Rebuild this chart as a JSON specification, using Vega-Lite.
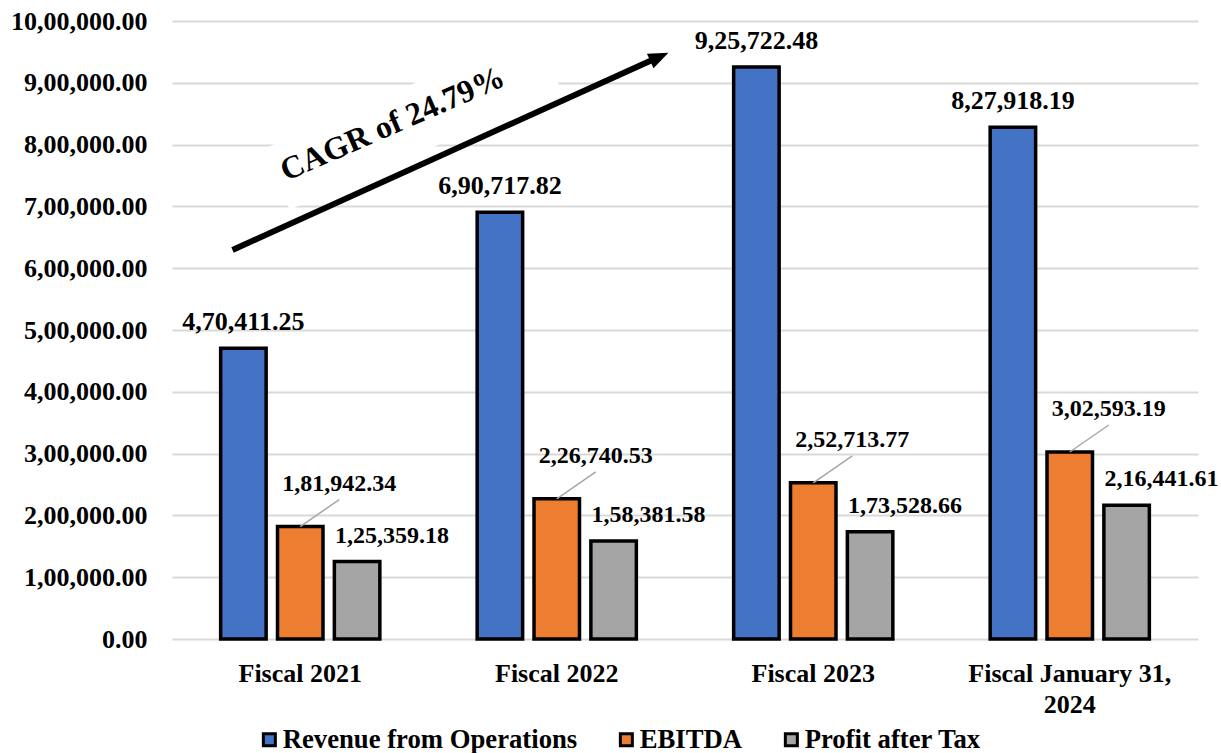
{
  "$schema": "https://vega.github.io/schema/vega-lite/v6.json",
  "width": 1026,
  "height": 618,
  "autosize": {"type": "none"},
  "padding": {"left": 172, "top": 21, "right": 23, "bottom": 114},
  "background": "white",
  "config": {
    "font": "Liberation Serif",
    "view": {"stroke": null},
    "axisY": {
      "labelFont": "Liberation Serif",
      "labelFontSize": 26,
      "labelFontWeight": "bold",
      "labelColor": "black",
      "labelPadding": 25,
      "ticks": false,
      "tickSize": 0,
      "domain": false,
      "gridColor": "#d9d9d9",
      "gridWidth": 2
    },
    "axisX": {
      "labelFont": "Liberation Serif",
      "labelFontSize": 26,
      "labelFontWeight": "bold",
      "labelColor": "black",
      "labelPadding": 21,
      "labelAngle": 0,
      "labelLineHeight": 31,
      "labelLimit": 400,
      "ticks": false,
      "tickSize": 0,
      "domain": false,
      "grid": false
    }
  },
  "layer": [
    {
      "data": {"values": [{}]},
      "layer": [
        {
          "mark": {"type": "rule", "color": "white", "strokeWidth": 66, "strokeCap": "butt"},
          "encoding": {
            "x": {"datum": 0.407, "type": "quantitative", "scale": {"domain": [0, 4], "nice": false, "zero": false}, "axis": null},
            "x2": {"datum": 1.468},
            "y": {"datum": 743700, "type": "quantitative", "axis": null},
            "y2": {"datum": 936000}
          }
        },
        {
          "mark": {"type": "rule", "color": "black", "strokeWidth": 6, "strokeCap": "butt"},
          "encoding": {
            "x": {"datum": 0.236, "type": "quantitative", "axis": null},
            "x2": {"datum": 1.885},
            "y": {"datum": 629600, "type": "quantitative", "axis": null},
            "y2": {"datum": 939400}
          }
        },
        {
          "mark": {"type": "point", "shape": "M1,0L-1,-0.8L-1,0.8Z", "size": 400, "angle": 335.7, "filled": true, "color": "black", "opacity": 1},
          "encoding": {
            "x": {"datum": 1.9, "type": "quantitative", "axis": null},
            "y": {"datum": 941800, "type": "quantitative", "axis": null}
          }
        },
        {
          "mark": {"type": "text", "text": "CAGR of 24.79%", "angle": 336.4, "fontSize": 32, "fontWeight": "bold", "font": "Liberation Serif", "align": "center", "baseline": "alphabetic", "color": "black"},
          "encoding": {
            "x": {"datum": 0.875, "type": "quantitative", "axis": null},
            "y": {"datum": 818900, "type": "quantitative", "axis": null}
          }
        }
      ]
    },
    {
      "data": {
        "values": [
          {"category": "Fiscal 2021", "series": "Revenue from Operations", "value": 470411.25},
          {"category": "Fiscal 2021", "series": "EBITDA", "value": 181942.34},
          {"category": "Fiscal 2021", "series": "Profit after Tax", "value": 125359.18},
          {"category": "Fiscal 2022", "series": "Revenue from Operations", "value": 690717.82},
          {"category": "Fiscal 2022", "series": "EBITDA", "value": 226740.53},
          {"category": "Fiscal 2022", "series": "Profit after Tax", "value": 158381.58},
          {"category": "Fiscal 2023", "series": "Revenue from Operations", "value": 925722.48},
          {"category": "Fiscal 2023", "series": "EBITDA", "value": 252713.77},
          {"category": "Fiscal 2023", "series": "Profit after Tax", "value": 173528.66},
          {"category": "Fiscal January 31, 2024", "series": "Revenue from Operations", "value": 827918.19},
          {"category": "Fiscal January 31, 2024", "series": "EBITDA", "value": 302593.19},
          {"category": "Fiscal January 31, 2024", "series": "Profit after Tax", "value": 216441.61}
        ]
      },
      "transform": [
        {
          "calculate": "floor(datum.value / 100000) + ',' + slice('0' + (floor(datum.value / 1000) % 100), -2) + ',' + slice('00' + (floor(datum.value) % 1000), -3) + '.' + slice('0' + (round(datum.value * 100) % 100), -2)",
          "as": "lbl"
        }
      ],
      "encoding": {
        "x": {
          "field": "category",
          "type": "nominal",
          "sort": ["Fiscal 2021", "Fiscal 2022", "Fiscal 2023", "Fiscal January 31, 2024"],
          "scale": {"paddingInner": 0.335, "paddingOuter": 0.1675},
          "axis": {
            "title": null,
            "labelExpr": "datum.value == 'Fiscal January 31, 2024' ? ['Fiscal January 31,', '2024'] : datum.value"
          }
        },
        "xOffset": {
          "field": "series",
          "type": "nominal",
          "scale": {"domain": ["Revenue from Operations", "EBITDA", "Profit after Tax"], "paddingInner": 0.2, "paddingOuter": 0.1}
        },
        "y": {
          "field": "value",
          "type": "quantitative",
          "scale": {"domain": [0, 1000000], "nice": false},
          "axis": {
            "title": null,
            "grid": true,
            "values": [0, 100000, 200000, 300000, 400000, 500000, 600000, 700000, 800000, 900000, 1000000],
            "labelExpr": "datum.value == 0 ? '0.00' : (datum.value / 100000) + ',00,000.00'"
          }
        }
      },
      "layer": [
        {
          "mark": {"type": "bar", "stroke": "black", "strokeWidth": 3.5},
          "encoding": {
            "color": {
              "field": "series",
              "type": "nominal",
              "scale": {
                "domain": ["Revenue from Operations", "EBITDA", "Profit after Tax"],
                "range": ["#4472C4", "#ED7D31", "#A5A5A5"]
              },
              "legend": {
                "orient": "none",
                "legendX": 84,
                "legendY": 705,
                "direction": "horizontal",
                "title": null,
                "symbolType": "square",
                "symbolSize": 144,
                "symbolStrokeColor": "black",
                "symbolStrokeWidth": 3,
                "symbolOpacity": 1,
                "labelFont": "Liberation Serif",
                "labelFontSize": 26.7,
                "labelFontWeight": "bold",
                "labelColor": "black",
                "labelOffset": 0,
                "columnPadding": 35,
                "labelLimit": 600,
                "encode": {
                  "symbols": {
                    "update": {
                      "stroke": {"value": "black"},
                      "strokeWidth": {"value": 3}
                    }
                  }
                }
              }
            }
          }
        },
        {
          "transform": [{"filter": "datum.series == 'EBITDA'"}],
          "mark": {"type": "rule", "color": "#a6a6a6", "strokeWidth": 1.5, "x2Offset": 39, "y2Offset": -27},
          "encoding": {
            "x2": {"field": "category"},
            "y2": {"field": "value"}
          }
        },
        {
          "transform": [{"filter": "datum.series == 'Revenue from Operations'"}],
          "mark": {"type": "text", "font": "Liberation Serif", "fontSize": 26, "fontWeight": "bold", "color": "black", "align": "center", "baseline": "alphabetic", "dy": -18},
          "encoding": {"text": {"field": "lbl"}}
        },
        {
          "transform": [{"filter": "datum.series == 'EBITDA'"}],
          "mark": {"type": "text", "font": "Liberation Serif", "fontSize": 24, "fontWeight": "bold", "color": "black", "align": "center", "baseline": "alphabetic", "dx": 39, "dy": -36},
          "encoding": {"text": {"field": "lbl"}}
        },
        {
          "transform": [{"filter": "datum.series == 'Profit after Tax'"}],
          "mark": {"type": "text", "font": "Liberation Serif", "fontSize": 24, "fontWeight": "bold", "color": "black", "align": "center", "baseline": "alphabetic", "dx": 35, "dy": -19},
          "encoding": {"text": {"field": "lbl"}}
        }
      ]
    }
  ],
  "resolve": {"scale": {"x": "independent"}, "axis": {"x": "independent", "y": "independent"}}
}
